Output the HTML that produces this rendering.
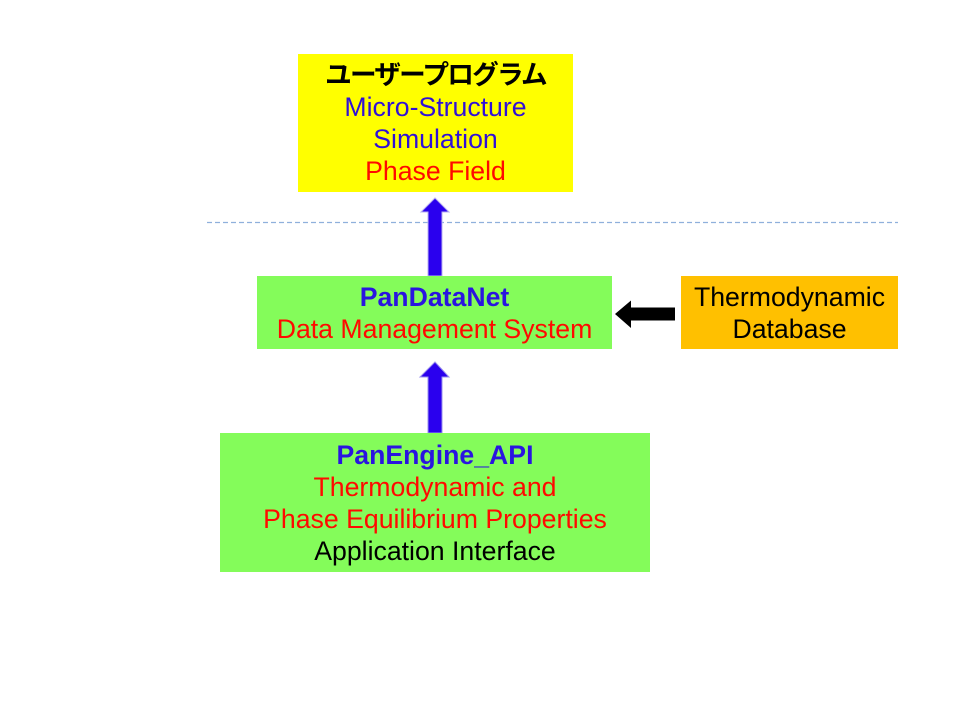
<!DOCTYPE html>
<html>
<head>
<meta charset="utf-8">
<style>
  html, body { margin:0; padding:0; background:#ffffff; }
  body { width:960px; height:720px; position:relative; overflow:hidden;
         font-family:"Liberation Sans", "Noto Sans CJK JP", sans-serif; }
  .box { position:absolute; display:flex; flex-direction:column; justify-content:center;
         align-items:center; text-align:center; font-size:26.67px; line-height:32px; }
  .box div { white-space:nowrap; }
  .blue { color:#3010d8; }
  .bblue { color:#2a14e0; font-weight:bold; }
  .red { color:#ff0a00; }
  .black { color:#000; }
  .jp { font-family:"Liberation Sans", "Noto Sans CJK JP", sans-serif; font-weight:bold; letter-spacing:-1.8px; color:#000; }
  svg { position:absolute; left:0; top:0; }
</style>
</head>
<body>
<svg width="960" height="720" viewBox="0 0 960 720">
  <line x1="207" y1="222.5" x2="898" y2="222.5" stroke="#8fb0dc" stroke-width="1.3" stroke-dasharray="5,3"/>
  <!-- up arrow 1 -->
  <polygon points="435,198 449,212 442,212 442,276 428,276 428,212 421,212" fill="#2a00ee" stroke="#b8b0f0" stroke-width="1"/>
  <!-- up arrow 2 -->
  <polygon points="435,362 449,377 442,377 442,433 428,433 428,377 420,377" fill="#2a00ee" stroke="#9a90ee" stroke-width="1"/>
  <!-- left arrow -->
  <polygon points="615,314 631,300.5 631,307.5 675,307.5 675,320.5 631,320.5 631,328" fill="#000000"/>
</svg>

<div class="box" style="left:298px; top:54px; width:275px; height:138px; background:#ffff00;">
  <div class="jp">ユーザープログラム</div>
  <div class="blue">Micro-Structure</div>
  <div class="blue">Simulation</div>
  <div class="red">Phase Field</div>
</div>

<div class="box" style="left:257px; top:276px; width:355px; height:73px; background:#84fc5a;">
  <div class="bblue">PanDataNet</div>
  <div class="red">Data Management System</div>
</div>

<div class="box" style="left:681px; top:276px; width:217px; height:73px; background:#ffc000;">
  <div class="black">Thermodynamic</div>
  <div class="black">Database</div>
</div>

<div class="box" style="left:220px; top:433px; width:430px; height:139px; background:#84fc5a;">
  <div class="bblue">PanEngine_API</div>
  <div class="red">Thermodynamic and</div>
  <div class="red">Phase Equilibrium Properties</div>
  <div class="black">Application Interface</div>
</div>
</body>
</html>
